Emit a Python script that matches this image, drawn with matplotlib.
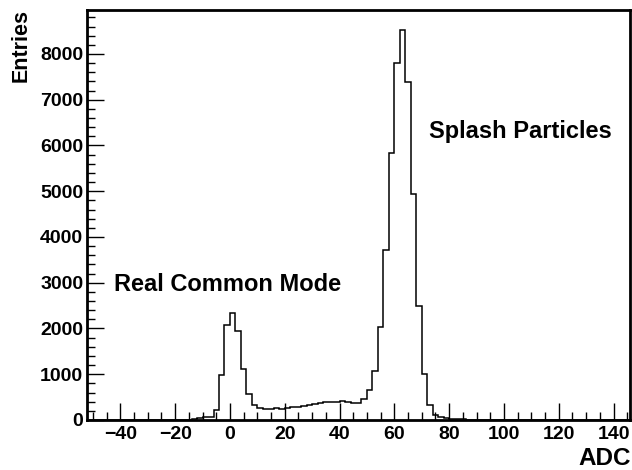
import numpy as np
import matplotlib
matplotlib.use("Agg")
import matplotlib.pyplot as plt
from matplotlib.ticker import MultipleLocator

# bin lower edges (width 2 ADC) and counts
bin_width = 2
bin_starts = list(range(-52, 146, 2))
counts_by_bin = {
    -18: 5, -16: 10, -14: 25, -12: 35, -10: 55, -8: 65, -6: 220,
    -4: 980, -2: 2070, 0: 2345, 2: 1940, 4: 1120, 6: 570, 8: 320,
    10: 255, 12: 235, 14: 233, 16: 268, 18: 246, 20: 261, 22: 276,
    24: 283, 26: 297, 28: 334, 30: 356, 32: 378, 34: 392, 36: 400,
    38: 385, 40: 414, 42: 392, 44: 378, 46: 378, 48: 457, 50: 650,
    52: 1070, 54: 2033, 56: 3718, 58: 5845, 60: 7795, 62: 8534,
    64: 7390, 66: 4938, 68: 2500, 70: 1002, 72: 327, 74: 110,
    76: 70, 78: 40, 80: 30, 82: 20, 84: 15, 86: 10, 88: 5, 90: 3,
}
counts = [counts_by_bin.get(b, 0) for b in bin_starts]

x_ticks = [-40, -20, 0, 20, 40, 60, 80, 100, 120, 140]
y_ticks = [0, 1000, 2000, 3000, 4000, 5000, 6000, 7000, 8000]

plt.rcParams['font.family'] = ['Liberation Sans', 'DejaVu Sans']
plt.rcParams['font.weight'] = 'bold'

fig = plt.figure(figsize=(6.32, 4.70), dpi=100)
ax = fig.add_axes([87.5/632, 1 - 420/470, (630 - 87.5)/632, (420 - 10)/470])

edges = np.array(bin_starts + [bin_starts[-1] + bin_width])
ax.stairs(counts, edges, color='black', linewidth=1.1)

ax.set_xlim(-52, 146)
ax.set_ylim(0, max(counts) * 1.05)

ax.set_xticks(x_ticks)
ax.set_yticks(y_ticks)
ax.xaxis.set_minor_locator(MultipleLocator(5))
ax.yaxis.set_minor_locator(MultipleLocator(200))
ax.tick_params(which='major', direction='in', length=12, width=1, labelsize=14)
ax.tick_params(axis='y', which='major', pad=3)
ax.tick_params(axis='x', which='major', pad=4)
ax.tick_params(which='minor', direction='in', length=6, width=1)
for lab in ax.get_xticklabels() + ax.get_yticklabels():
    lab.set_fontweight('bold')
for sp in ax.spines.values():
    sp.set_linewidth(2)

fig.text(21/632, 1 - 9/470, 'Entries', rotation=90, ha='center', va='top',
         fontsize=15.5, fontweight='bold')
fig.text(631/632, 1 - 465/470, 'ADC', ha='right', va='baseline',
         fontsize=17.5, fontweight='bold')

ax.text(-42.5, 2810, 'Real Common Mode', ha='left', va='baseline',
        fontsize=17, fontweight='bold')
ax.text(72.7, 6166, 'Splash Particles', ha='left', va='baseline',
        fontsize=17, fontweight='bold')

fig.savefig('out.png', dpi=100)
